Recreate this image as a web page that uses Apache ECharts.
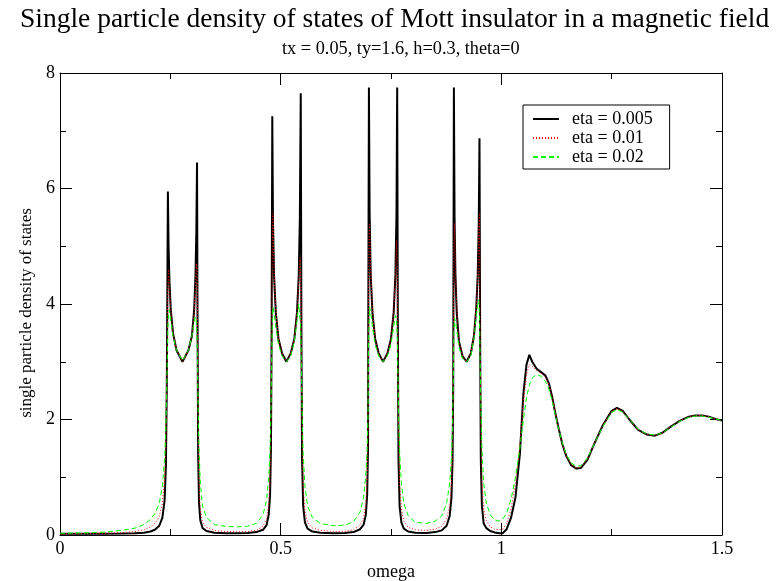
<!DOCTYPE html>
<html>
<head>
<meta charset="utf-8">
<script src="https://cdn.jsdelivr.net/npm/echarts@6/dist/echarts.min.js"></script>
<style>
html,body{margin:0;padding:0;background:#fff;}
#chart{width:776px;height:581px;}
</style>
</head>
<body>
<div id="chart"></div>
<script>
// omega grid (x values)
const omega = [
  0, 0.05, 0.1, 0.14, 0.17, 0.19, 0.205, 0.215, 0.225, 0.232, 0.237, 0.24, 0.242,
  0.2435, 0.2445, 0.246, 0.248, 0.251, 0.256, 0.264, 0.2775, 0.291, 0.299, 0.304, 0.307, 0.309, 0.3105, 0.3115, 0.313, 0.315, 0.318, 0.323, 0.332, 0.35,
  0.375, 0.40, 0.425, 0.445, 0.46, 0.468, 0.473, 0.476, 0.478,
  0.4795, 0.481, 0.4825, 0.485, 0.489, 0.495, 0.503, 0.513, 0.523, 0.531, 0.537, 0.541, 0.5435, 0.5455, 0.547, 0.5485, 0.551, 0.555, 0.561, 0.572, 0.59,
  0.62, 0.645, 0.665, 0.68, 0.688, 0.693, 0.696, 0.698,
  0.6985, 0.700, 0.7015, 0.704, 0.708, 0.714, 0.722, 0.732, 0.742, 0.75, 0.756, 0.76, 0.7625, 0.764, 0.7655, 0.767, 0.7695, 0.7735, 0.779, 0.789, 0.805,
  0.83, 0.85, 0.865, 0.876, 0.883, 0.887, 0.8895, 0.891,
  0.8925, 0.894, 0.896, 0.899, 0.904, 0.912, 0.9215, 0.931, 0.938, 0.943, 0.9465, 0.9488, 0.9505, 0.952, 0.9535, 0.956, 0.96, 0.966, 0.975, 0.985,
  0.995, 1.003, 1.012, 1.022, 1.032, 1.042, 1.05, 1.057, 1.0635, 1.07, 1.08, 1.09, 1.1, 1.108, 1.115, 1.122, 1.13, 1.138, 1.147, 1.158, 1.17, 1.18, 1.195, 1.21, 1.23, 1.25, 1.262, 1.275, 1.29, 1.31, 1.33, 1.348, 1.365, 1.385, 1.405, 1.425, 1.44, 1.455, 1.47, 1.485, 1.5
];
// eta = 0.005
const dosEta0005 = [
  0.02, 0.02, 0.02, 0.025, 0.03, 0.04, 0.06, 0.09, 0.16, 0.3, 0.6, 1.2, 2.6,
  4.6, 5.95, 5.0, 4.4, 3.9, 3.5, 3.2, 3.0, 3.2, 3.45, 3.9, 4.5, 5.3, 6.45, 4.0, 1.4, 0.55, 0.25, 0.12, 0.07, 0.04,
  0.03, 0.03, 0.035, 0.05, 0.09, 0.17, 0.35, 0.7, 1.5,
  3.5, 7.25, 5.5, 4.5, 3.85, 3.4, 3.15, 3.0, 3.15, 3.4, 3.85, 4.5, 5.5, 7.65, 3.5, 1.3, 0.5, 0.22, 0.11, 0.06, 0.04,
  0.03, 0.035, 0.05, 0.1, 0.18, 0.35, 0.7, 1.5,
  3.6, 7.75, 5.6, 4.5, 3.85, 3.4, 3.15, 3.0, 3.15, 3.4, 3.85, 4.5, 5.6, 7.75, 3.6, 1.3, 0.5, 0.22, 0.11, 0.06, 0.04,
  0.035, 0.05, 0.08, 0.16, 0.33, 0.65, 1.3, 2.6,
  7.75, 5.5, 4.5, 3.85, 3.35, 3.1, 3.0, 3.15, 3.45, 3.9, 4.5, 5.4, 6.87, 3.4, 1.3, 0.5, 0.2, 0.12, 0.07, 0.045,
  0.03, 0.03, 0.1, 0.3, 0.65, 1.4, 2.45, 2.95, 3.12, 3.0, 2.88, 2.82, 2.76, 2.62, 2.4, 2.12, 1.84, 1.58, 1.37, 1.21, 1.15, 1.16, 1.3, 1.57, 1.9, 2.15, 2.2, 2.15, 2.0, 1.82, 1.74, 1.72, 1.77, 1.88, 1.98, 2.05, 2.07, 2.07, 2.05, 2.01, 1.98
];
// eta = 0.01
const dosEta001 = [
  0.02, 0.025, 0.03, 0.04, 0.06, 0.09, 0.14, 0.2, 0.32, 0.55, 0.95, 1.6, 2.6,
  3.6, 4.3, 4.6, 4.3, 3.9, 3.5, 3.2, 3.0, 3.2, 3.45, 3.85, 4.3, 4.7, 4.6, 3.8, 2.0, 0.9, 0.45, 0.22, 0.13, 0.08,
  0.06, 0.055, 0.06, 0.08, 0.15, 0.28, 0.55, 1.0, 1.7,
  3.3, 5.0, 5.57, 4.6, 3.9, 3.4, 3.15, 3.0, 3.15, 3.4, 3.85, 4.4, 4.8, 4.5, 3.2, 1.8, 0.85, 0.42, 0.22, 0.12, 0.08,
  0.06, 0.065, 0.09, 0.17, 0.3, 0.55, 1.0, 1.8,
  3.4, 5.1, 5.4, 4.6, 3.9, 3.4, 3.15, 3.0, 3.15, 3.4, 3.85, 4.5, 5.1, 4.7, 3.3, 1.9, 0.9, 0.45, 0.24, 0.13, 0.09,
  0.08, 0.1, 0.15, 0.28, 0.5, 0.9, 1.5, 2.5,
  5.0, 5.4, 4.6, 3.9, 3.35, 3.1, 3.0, 3.15, 3.45, 3.9, 4.5, 5.2, 5.57, 3.4, 1.9, 0.95, 0.45, 0.25, 0.14, 0.1,
  0.09, 0.1, 0.2, 0.45, 0.9, 1.55, 2.3, 2.78, 2.95, 2.92, 2.85, 2.8, 2.74, 2.6, 2.4, 2.12, 1.84, 1.58, 1.37, 1.22, 1.16, 1.17, 1.31, 1.57, 1.9, 2.14, 2.19, 2.14, 2.0, 1.82, 1.74, 1.72, 1.77, 1.88, 1.98, 2.05, 2.07, 2.07, 2.05, 2.01, 1.98
];
// eta = 0.02
const dosEta002 = [
  0.03, 0.035, 0.05, 0.08, 0.12, 0.18, 0.27, 0.37, 0.55, 0.85, 1.3, 1.9, 2.6,
  3.2, 3.6, 3.85, 3.9, 3.7, 3.45, 3.2, 3.02, 3.2, 3.45, 3.7, 3.78, 3.7, 3.4, 3.0, 2.2, 1.5, 0.9, 0.5, 0.3, 0.18,
  0.15, 0.14, 0.15, 0.2, 0.35, 0.6, 1.0, 1.5, 2.1,
  3.0, 3.6, 3.95, 3.85, 3.6, 3.3, 3.1, 3.0, 3.1, 3.35, 3.7, 4.0, 4.02, 3.6, 2.9, 2.2, 1.4, 0.85, 0.5, 0.3, 0.2,
  0.16, 0.17, 0.23, 0.4, 0.65, 1.05, 1.5, 2.1,
  3.0, 3.6, 3.95, 3.85, 3.6, 3.3, 3.1, 3.0, 3.1, 3.3, 3.6, 3.8, 3.75, 3.5, 2.9, 2.2, 1.45, 0.9, 0.55, 0.33, 0.22,
  0.2, 0.24, 0.33, 0.55, 0.9, 1.35, 1.9, 2.6,
  3.5, 3.76, 3.7, 3.55, 3.25, 3.05, 3.0, 3.1, 3.4, 3.75, 4.0, 4.07, 3.8, 3.0, 2.3, 1.5, 0.9, 0.55, 0.35, 0.26,
  0.24, 0.27, 0.38, 0.62, 1.0, 1.5, 2.0, 2.38, 2.6, 2.72, 2.78, 2.75, 2.66, 2.52, 2.33, 2.08, 1.83, 1.6, 1.4, 1.25, 1.19, 1.2, 1.33, 1.57, 1.88, 2.12, 2.17, 2.13, 2.0, 1.83, 1.75, 1.73, 1.77, 1.87, 1.97, 2.04, 2.06, 2.06, 2.04, 2.01, 1.98
];
const seriesNames = ['eta = 0.005', 'eta = 0.01', 'eta = 0.02'];
const xTicks = [0, 0.5, 1, 1.5];
const yTicks = [0, 2, 4, 6, 8];

const FONT = "'Liberation Serif', 'DejaVu Serif', serif";
const chart = echarts.init(document.getElementById('chart'), null, {renderer: 'canvas'});
const pair = arr => omega.map((x, i) => [x, arr[i]]);
const lens = [omega.length, dosEta0005.length, dosEta001.length, dosEta002.length];
const mismatch = lens.some(l => l !== omega.length);

const axisCommon = {
  axisLine: {show: true, onZero: false, lineStyle: {color: '#000', width: 1}},
  axisTick: {show: true, inside: true, length: 12, lineStyle: {color: '#000'}},
  minorTick: {show: true, splitNumber: 2, length: 6, lineStyle: {color: '#000'}},
  splitLine: {show: false},
  minorSplitLine: {show: false}
};

chart.setOption({
  animation: false,
  backgroundColor: '#fff',
  title: [
    {text: 'Single particle density of states of Mott insulator in a magnetic field', left: 15, top: 1,
     textStyle: {fontFamily: FONT, fontSize: 27.5, fontWeight: 'normal', color: '#000'}},
    {text: 'tx = 0.05, ty=1.6, h=0.3, theta=0', left: 277, top: 35,
     textStyle: {fontFamily: FONT, fontSize: 18.3, fontWeight: 'normal', color: '#000'}}
  ],
  grid: {left: 60, right: 54, top: 73, bottom: 46, containLabel: false, outerBoundsMode: 'none'},
  legend: {
    orient: 'vertical', left: 523, top: 105,
    data: seriesNames,
    backgroundColor: '#fff', borderColor: '#000', borderWidth: 1,
    padding: [5, 17, 3, 9], itemGap: 1, itemWidth: 26, itemHeight: 14,
    itemStyle: {opacity: 0},
    textStyle: {fontFamily: FONT, fontSize: 18, color: '#000', padding: [0, 0, 0, 8]}
  },
  xAxis: [
    Object.assign({type: 'value', min: 0, max: 1.5, interval: 0.5, position: 'bottom',
      name: 'omega', nameLocation: 'middle', nameGap: 21,
      nameTextStyle: {fontFamily: FONT, fontSize: 18, color: '#000'},
      axisLabel: {fontFamily: FONT, fontSize: 18, color: '#000', margin: 5,
        formatter: v => (xTicks.indexOf(v) >= 0 ? String(v) : '')}}, axisCommon),
    Object.assign({type: 'value', min: 0, max: 1.5, interval: 0.5, position: 'top',
      axisLabel: {show: false}}, axisCommon)
  ],
  yAxis: [
    Object.assign({type: 'value', min: 0, max: 8, interval: 2, position: 'left',
      name: 'single particle density of states', nameLocation: 'middle', nameGap: 15,
      nameTextStyle: {fontFamily: FONT, fontSize: 17, color: '#000', padding: [0, 18, 0, 0]},
      axisLabel: {fontFamily: FONT, fontSize: 18, color: '#000', margin: 5,
        formatter: v => (yTicks.indexOf(v) >= 0 ? String(v) : '')}}, axisCommon),
    Object.assign({type: 'value', min: 0, max: 8, interval: 2, position: 'right',
      axisLabel: {show: false}}, axisCommon)
  ],
  series: [
    {name: seriesNames[0], type: 'line', data: pair(dosEta0005), showSymbol: false, symbol: 'none',
     lineStyle: {color: '#000', width: 2}, itemStyle: {color: '#000'}, z: 2},
    {name: seriesNames[1], type: 'line', data: pair(dosEta001), showSymbol: false, symbol: 'none',
     lineStyle: {color: '#ff0000', width: 1, type: [1, 2]}, itemStyle: {color: '#ff0000'}, z: 3},
    {name: seriesNames[2], type: 'line', data: pair(dosEta002), showSymbol: false, symbol: 'none',
     lineStyle: {color: '#00ff00', width: 1, type: [5, 3]}, itemStyle: {color: '#00ff00'}, z: 4}
  ],
  graphic: mismatch ? [{type: 'text', left: 100, top: 100, style: {text: 'LEN MISMATCH ' + lens.join(','), fill: 'blue', fontSize: 20}}] : []
});
</script>
</body>
</html>
